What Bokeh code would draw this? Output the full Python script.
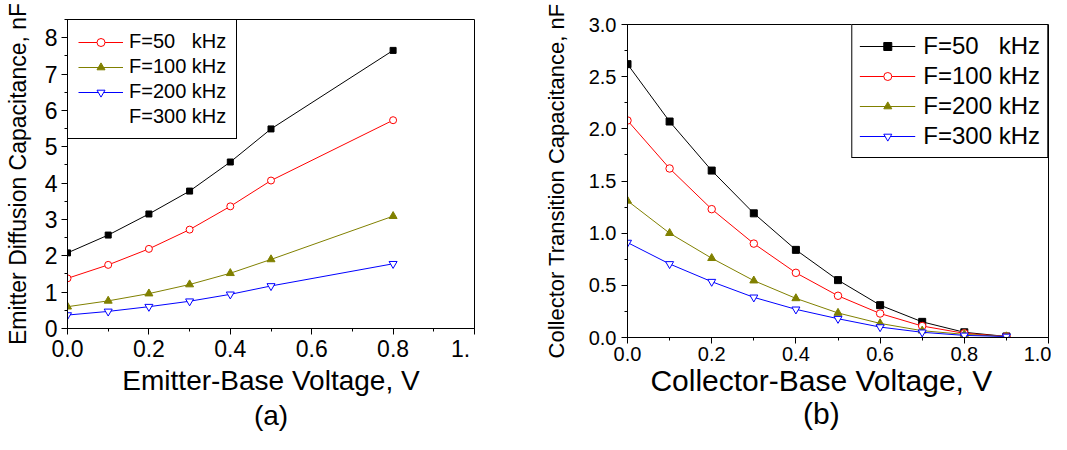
from bokeh.plotting import figure
from bokeh.models import (Range1d, Legend, LegendItem, SingleIntervalTicker,
                          NumeralTickFormatter, CustomJSTickFormatter)
from bokeh.layouts import row, column
from bokeh.embed import file_html
from bokeh.resources import INLINE

FONT = "Liberation Sans"
NB = "\u00a0"

# ---------------- data (a) ----------------
a_x = [0.0, 0.1, 0.2, 0.3, 0.4, 0.5, 0.8]
a_black = [2.08, 2.57, 3.15, 3.78, 4.58, 5.49, 7.65]
a_red = [1.38, 1.75, 2.19, 2.72, 3.36, 4.07, 5.73]
a_olive = [0.60, 0.76, 0.96, 1.21, 1.52, 1.90, 3.09]
a_blue = [0.37, 0.47, 0.60, 0.75, 0.94, 1.17, 1.78]
a_labels = ["F=50" + NB * 3 + "kHz", "F=100 kHz", "F=200 kHz", "F=300 kHz"]
a_xtitle = "Emitter-Base Voltage, V"
a_sub = "(a)"
a_ytitle = "Emitter Diffusion Capacitance, nF"

# ---------------- data (b) ----------------
b_x = [0.0, 0.1, 0.2, 0.3, 0.4, 0.5, 0.6, 0.7, 0.8, 0.9]
b_black = [2.62, 2.07, 1.60, 1.19, 0.84, 0.55, 0.31, 0.15, 0.05, 0.01]
b_red = [2.08, 1.62, 1.23, 0.90, 0.62, 0.40, 0.23, 0.11, 0.04, 0.01]
b_olive = [1.31, 1.00, 0.76, 0.545, 0.375, 0.235, 0.135, 0.065, 0.03, 0.01]
b_blue = [0.91, 0.705, 0.535, 0.385, 0.27, 0.18, 0.10, 0.05, 0.02, 0.01]
b_labels = ["F=50" + NB * 3 + "kHz", "F=100 kHz", "F=200 kHz", "F=300 kHz"]
b_xtitle = "Collector-Base Voltage, V"
b_sub = "(b)"
b_ytitle = "Collector Transition Capacitance, nF"

BLACK, RED, OLIVE, BLUE = "#000000", "#FF0000", "#808000", "#0000FF"


def make_fig(width, height, bl, br, bt, bb, ymax):
    p = figure(width=width, height=height, output_backend="svg", toolbar_location=None,
               x_range=Range1d(0, 1.0), y_range=Range1d(0, ymax),
               min_border_left=bl, min_border_right=br, min_border_top=bt,
               min_border_bottom=bb)
    p.background_fill_color = "white"
    p.border_fill_color = "white"
    p.outline_line_color = "black"
    p.outline_line_alpha = 1
    p.outline_line_width = 1
    p.grid.visible = False
    for ax in (p.xaxis[0], p.yaxis[0]):
        ax.axis_line_color = "black"
        ax.axis_line_width = 1
        ax.major_tick_line_color = "black"
        ax.minor_tick_line_color = "black"
        ax.major_tick_out = 6
        ax.major_tick_in = 0
        ax.minor_tick_out = 3
        ax.minor_tick_in = 0
        ax.major_label_text_font = FONT
        ax.major_label_text_color = "black"
        ax.axis_label_text_font = FONT
        ax.axis_label_text_font_style = "normal"
        ax.axis_label_text_color = "black"
    return p


def series(p, x, y, color, marker, size, fill):
    l = p.line(x, y, line_color=color, line_width=1)
    s = p.scatter(x, y, marker=marker, size=size, line_color=color,
                  fill_color=fill, line_width=1)
    return [l, s]


def style_legend(leg, fs, pad, spacing, gw, standoff, loc):
    leg.location = loc
    leg.margin = 0
    leg.padding = pad
    leg.spacing = spacing
    leg.glyph_width = gw
    leg.glyph_height = 20
    leg.label_height = 20
    leg.label_standoff = standoff
    leg.label_text_font = FONT
    leg.label_text_font_size = fs
    leg.label_text_color = "black"
    leg.border_line_color = "black"
    leg.border_line_width = 1
    leg.border_line_alpha = 1
    leg.background_fill_color = "white"
    leg.background_fill_alpha = 1


# ================= figure (a) =================
pa = make_fig(476, 434, 67, 2, 19, 106, 8.5)
pa.xaxis.ticker = SingleIntervalTicker(interval=0.2, num_minor_ticks=2)
pa.yaxis.ticker = SingleIntervalTicker(interval=1, num_minor_ticks=2)
pa.xaxis.formatter = CustomJSTickFormatter(
    code="return tick > 0.99 ? '1.\u00a0' : tick.toFixed(1);")
pa.xaxis.major_label_text_font_size = "23px"
pa.yaxis.major_label_text_font_size = "23px"
pa.xaxis.major_label_standoff = 1
pa.yaxis.major_label_standoff = 4
pa.xaxis.axis_label = a_xtitle + "\n" + a_sub
pa.xaxis.axis_label_text_font_size = "28px"
pa.xaxis.axis_label_text_line_height = 1.15
pa.xaxis.axis_label_standoff = 0
pa.yaxis.axis_label = a_ytitle
pa.yaxis.axis_label_text_font_size = "23px"
pa.yaxis.axis_label_standoff = 11

series(pa, a_x, a_black, BLACK, "square", 6, BLACK)
ra1 = series(pa, a_x, a_red, RED, "circle", 7, "white")
ra2 = series(pa, a_x, a_olive, OLIVE, "triangle", 8, OLIVE)
ra3 = series(pa, a_x, a_blue, BLUE, "inverted_triangle", 8, "white")
ra4 = [pa.line([0, 0], [0, 0], line_alpha=0)]

lega = Legend(items=[LegendItem(label=a_labels[0], renderers=ra1),
                     LegendItem(label=a_labels[1], renderers=ra2),
                     LegendItem(label=a_labels[2], renderers=ra3),
                     LegendItem(label=a_labels[3], renderers=ra4)])
style_legend(lega, "20px", 10, 2, 45, 6, "top_left")
pa.add_layout(lega)

# ================= figure (b) =================
pb = make_fig(575, 434, 151, 3, 24, 97, 3.0)
pb.xaxis.ticker = SingleIntervalTicker(interval=0.2, num_minor_ticks=2)
pb.yaxis.ticker = SingleIntervalTicker(interval=0.5, num_minor_ticks=2)
pb.xaxis.formatter = NumeralTickFormatter(format="0.0")
pb.yaxis.formatter = NumeralTickFormatter(format="0.0")
pb.xaxis.major_label_text_font_size = "20px"
pb.yaxis.major_label_text_font_size = "20px"
pb.xaxis.major_label_standoff = 3
pb.yaxis.major_label_standoff = 5
pb.xaxis.axis_label = b_xtitle + NB * 4 + "\n" + b_sub + NB * 4
pb.xaxis.axis_label_text_font_size = "30px"
pb.xaxis.axis_label_text_line_height = 1.03
pb.xaxis.axis_label_standoff = 0
pb.yaxis.axis_label = b_ytitle
pb.yaxis.axis_label_text_font_size = "22px"
pb.yaxis.axis_label_standoff = 17

rb0 = series(pb, b_x, b_black, BLACK, "square", 7, BLACK)
rb1 = series(pb, b_x, b_red, RED, "circle", 7.5, "white")
rb2 = series(pb, b_x, b_olive, OLIVE, "triangle", 8, OLIVE)
rb3 = series(pb, b_x, b_blue, BLUE, "inverted_triangle", 8, "white")

legb = Legend(items=[LegendItem(label=b_labels[0], renderers=rb0),
                     LegendItem(label=b_labels[1], renderers=rb1),
                     LegendItem(label=b_labels[2], renderers=rb2),
                     LegendItem(label=b_labels[3], renderers=rb3)])
style_legend(legb, "24px", 7, 2, 56, 8, "top_right")
pb.add_layout(legb)

layout = row(column(pa), column(pb), spacing=0)
open("out.html", "w").write(file_html(layout, INLINE))
